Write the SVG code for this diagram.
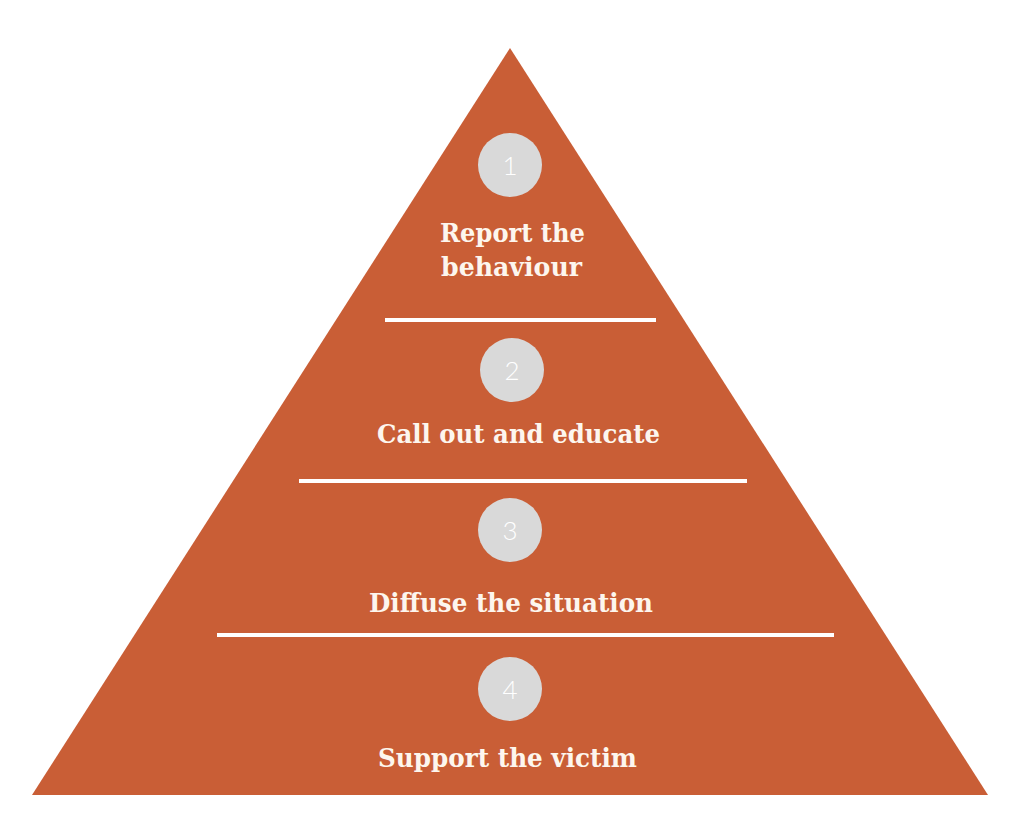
<svg xmlns="http://www.w3.org/2000/svg" width="1024" height="817" viewBox="0 0 1024 817">
<style>
.lbl{font-family:"DejaVu Serif","Liberation Serif",serif;font-weight:bold;font-size:26px;fill:#FDF6EE;text-anchor:middle}
.num{font-family:"Lato","Liberation Sans",sans-serif;font-weight:300;font-size:26px;fill:#FFFFFF;text-anchor:middle}
.circ{fill:#D9D9D9}
.sep{stroke:#FFFFFF;stroke-width:4}
</style>
<rect width="1024" height="817" fill="#FFFFFF"/>
<polygon id="pyramid" points="510,48 32,795 988,795" fill="#C95E36"/>
<g id="separators">
<line class="sep" x1="385" y1="320" x2="656" y2="320"/>
<line class="sep" x1="299" y1="481" x2="747" y2="481"/>
<line class="sep" x1="217" y1="635" x2="834" y2="635"/>
</g>
<g id="step1">
<circle class="circ" cx="510" cy="165" r="32"/>
<text class="num" x="510" y="175">1</text>
<text class="lbl" x="512.5" y="242" textLength="145" lengthAdjust="spacingAndGlyphs">Report the</text>
<text class="lbl" x="511.5" y="276" textLength="141" lengthAdjust="spacingAndGlyphs">behaviour</text>
</g>
<g id="step2">
<circle class="circ" cx="512" cy="370" r="32"/>
<text class="num" x="512" y="380">2</text>
<text class="lbl" x="518.5" y="443" textLength="283" lengthAdjust="spacingAndGlyphs">Call out and educate</text>
</g>
<g id="step3">
<circle class="circ" cx="510" cy="530" r="32"/>
<text class="num" x="510" y="540">3</text>
<text class="lbl" x="511" y="612" textLength="284" lengthAdjust="spacingAndGlyphs">Diffuse the situation</text>
</g>
<g id="step4">
<circle class="circ" cx="510" cy="689" r="32"/>
<text class="num" x="510" y="699">4</text>
<text class="lbl" x="507.5" y="767" textLength="259" lengthAdjust="spacingAndGlyphs">Support the victim</text>
</g>
</svg>
